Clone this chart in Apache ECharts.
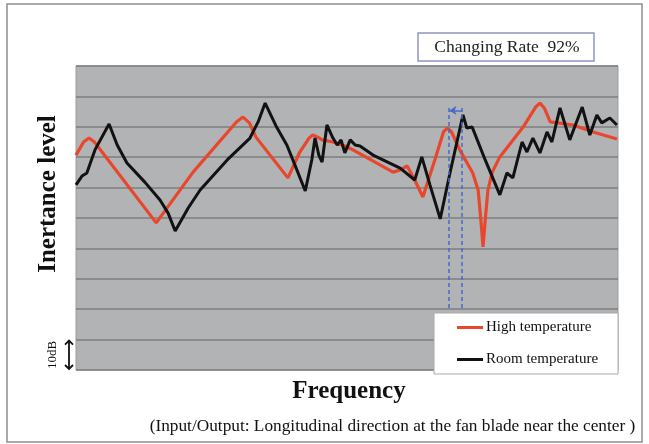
<!DOCTYPE html>
<html>
<head>
<meta charset="utf-8">
<script src="https://cdn.jsdelivr.net/npm/echarts@6/dist/echarts.min.js"></script>
<style>
  html, body { margin: 0; padding: 0; background: #ffffff; }
  #chart { width: 649px; height: 444px; }
</style>
</head>
<body>
<div id="chart"></div>
<script>
// Inertance level (dB) vs. normalised frequency (0-100 across the band)
const highFreq = [0, 1.4, 2.4, 3.4, 14.8, 21.6, 29.6, 30.8, 32.0, 33.2, 39.1, 41.3, 43.0, 43.7, 44.6, 45.4, 47.4, 49.6, 51.1, 58.5, 59.8, 61.1, 62.5, 64.0, 66.2, 67.8, 68.5, 69.3, 70.8, 73.2, 74.2, 74.7, 75.1, 75.5, 76.0, 76.8, 78.2, 82.5, 84.8, 85.6, 86.4, 87.5, 91.7, 95.4, 99.8];
const highLevel = [70.7, 75.0, 76.3, 75.0, 48.4, 65.1, 81.6, 83.2, 81.3, 76.6, 63.2, 71.7, 76.3, 77.3, 76.6, 75.7, 75.0, 73.7, 72.4, 65.1, 65.8, 67.1, 62.5, 56.9, 69.1, 78.3, 79.6, 78.3, 72.4, 64.8, 59.2, 49.3, 40.5, 49.3, 59.2, 65.1, 70.1, 79.9, 86.5, 87.8, 86.2, 81.6, 80.6, 78.3, 76.0];

const roomFreq = [0, 1.1, 2.0, 3.5, 6.1, 7.6, 9.4, 12.7, 15.5, 17.0, 18.3, 20.7, 22.9, 27.9, 32.1, 33.6, 34.9, 36.9, 38.9, 40.4, 42.3, 43.5, 44.1, 44.8, 45.4, 46.3, 47.4, 48.2, 48.9, 49.6, 50.6, 51.5, 52.4, 54.8, 59.8, 62.5, 63.8, 65.3, 67.2, 69.0, 71.4, 72.1, 73.1, 75.5, 78.2, 79.5, 80.6, 82.3, 83.2, 84.3, 85.6, 86.9, 87.8, 89.3, 91.1, 93.4, 94.8, 96.1, 97.0, 98.5, 99.8];
const roomLevel = [60.9, 63.8, 64.8, 72.4, 80.9, 74.0, 68.1, 61.8, 55.9, 51.6, 45.7, 53.3, 59.2, 69.1, 76.3, 81.6, 87.8, 80.3, 74.0, 67.4, 58.9, 69.1, 76.3, 70.7, 68.4, 80.6, 76.3, 74.0, 75.7, 71.4, 75.7, 74.0, 73.7, 70.7, 66.4, 62.5, 70.1, 60.9, 49.7, 64.8, 83.9, 79.6, 79.9, 69.1, 57.6, 64.8, 63.2, 75.0, 71.7, 76.3, 71.4, 78.3, 75.0, 86.2, 75.7, 86.5, 77.3, 83.9, 81.3, 82.9, 80.6];

// Resonance peak shift: room-temperature peak -> high-temperature peak
const peakRoom = 71.2;
const peakHigh = 68.8;
const markerTop = 86.2;
const markerBottom = 19.7;
const arrowLevel = 85.4;

const seriesNames = ['High temperature', 'Room temperature'];
const changingRate = 'Changing Rate  92%';

const serif = '"Liberation Serif", "DejaVu Serif", serif';

function pairs(xs, ys) { return xs.map((x, i) => [x, ys[i]]); }

const chart = echarts.init(document.getElementById('chart'), null, { renderer: 'canvas' });

chart.setOption({
  animation: false,
  backgroundColor: '#ffffff',
  grid: {
    left: 76, right: 31, top: 66, bottom: 74,
    show: true, backgroundColor: '#b2b3b5', borderColor: '#9c9da0', borderWidth: 1
  },
  xAxis: {
    type: 'value', min: 0, max: 100,
    axisLine: { show: false }, axisTick: { show: false }, axisLabel: { show: false },
    splitLine: { show: false }
  },
  yAxis: {
    type: 'value', min: 0, max: 100, interval: 10,
    axisLine: { show: false }, axisTick: { show: false }, axisLabel: { show: false },
    splitLine: { show: true, lineStyle: { color: '#7d7e81', width: 1.5 } }
  },
  legend: {
    data: seriesNames,
    orient: 'vertical',
    left: 434, top: 313,
    padding: [7, 20, 7, 23],
    itemGap: 17,
    itemWidth: 26, itemHeight: 3,
    icon: 'rect',
    backgroundColor: '#ffffff',
    borderColor: '#a9a9a9', borderWidth: 1,
    textStyle: { fontFamily: serif, fontSize: 15, color: '#111', padding: [0, 0, 0, -2] }
  },
  series: [
    {
      name: seriesNames[0], type: 'line', data: pairs(highFreq, highLevel),
      symbol: 'none', smooth: false,
      lineStyle: { color: '#e8472c', width: 3.2 }, itemStyle: { color: '#e8472c' }
    },
    {
      name: seriesNames[1], type: 'line', data: pairs(roomFreq, roomLevel),
      symbol: 'none', smooth: false,
      lineStyle: { color: '#121212', width: 3 }, itemStyle: { color: '#121212' }
    },
    {
      name: 'shift', type: 'line', data: [], silent: true,
      markLine: {
        silent: true, animation: false,
        label: { show: false },
        emphasis: { disabled: true },
        data: [
          [{ coord: [peakHigh, markerTop], symbol: 'none' }, { coord: [peakHigh, markerBottom], symbol: 'none' }],
          [{ coord: [peakRoom, markerTop], symbol: 'none' }, { coord: [peakRoom, markerBottom], symbol: 'none' }],
          [{ coord: [peakRoom, arrowLevel], symbol: 'none', lineStyle: { type: 'solid' } },
           { coord: [peakHigh + 0.1, arrowLevel], symbol: 'arrow', symbolSize: [7, 7] }]
        ],
        lineStyle: { color: '#4a68cc', width: 1.5, type: [4, 3] }
      }
    }
  ],
  graphic: [
    {
      id: 'frame', type: 'rect', silent: true, z: -10,
      shape: { x: 7, y: 4, width: 635, height: 438 },
      style: { fill: 'none', stroke: '#8e8e8e', lineWidth: 1.5 }
    },
    {
      id: 'rateBox', type: 'rect', silent: true,
      shape: { x: 418, y: 33, width: 176, height: 28 },
      style: { fill: '#ffffff', stroke: '#8f95c6', lineWidth: 1.5 }
    },
    {
      id: 'rateText', type: 'text', silent: true, x: 507, y: 47,
      style: { text: changingRate, fontFamily: serif, fontSize: 17.5, fill: '#222', align: 'center', verticalAlign: 'middle' }
    },
    {
      id: 'yTitle', type: 'text', silent: true, x: 49, y: 194, rotation: Math.PI / 2,
      style: { text: 'Inertance level', fontFamily: serif, fontWeight: 'bold', fontSize: 25, fill: '#111', align: 'center', verticalAlign: 'middle' }
    },
    {
      id: 'xTitle', type: 'text', silent: true, x: 349, y: 392,
      style: { text: 'Frequency', fontFamily: serif, fontWeight: 'bold', fontSize: 25, fill: '#111', align: 'center', verticalAlign: 'middle' }
    },
    {
      id: 'note', type: 'text', silent: true, x: 392.5, y: 426,
      style: { text: '(Input/Output: Longitudinal direction at the fan blade near the center )', fontFamily: serif, fontSize: 17.3, fill: '#111', align: 'center', verticalAlign: 'middle' }
    }
  ]
});

// 10 dB scale marker: a double arrow spanning one grid interval, plus its label
const yA = chart.convertToPixel({ yAxisIndex: 0 }, 10);
const yB = chart.convertToPixel({ yAxisIndex: 0 }, 0);
const ax = 69;
const head = 4;
const arrowStyle = { stroke: '#111', lineWidth: 1.8, fill: 'none' };
chart.setOption({
  graphic: [
    {
      id: 'scaleShaft', type: 'polyline', silent: true,
      shape: { points: [[ax, yA + 1], [ax, yB - 1]] }, style: arrowStyle
    },
    {
      id: 'scaleHeadTop', type: 'polyline', silent: true,
      shape: { points: [[ax - head, yA + head + 1], [ax, yA + 1], [ax + head, yA + head + 1]] }, style: arrowStyle
    },
    {
      id: 'scaleHeadBottom', type: 'polyline', silent: true,
      shape: { points: [[ax - head, yB - head - 1], [ax, yB - 1], [ax + head, yB - head - 1]] }, style: arrowStyle
    },
    {
      id: 'scaleLabel', type: 'text', silent: true, x: 53, y: (yA + yB) / 2, rotation: Math.PI / 2,
      style: { text: '10dB', fontFamily: serif, fontSize: 13, fill: '#111', align: 'center', verticalAlign: 'middle' }
    }
  ]
});
</script>
</body>
</html>
